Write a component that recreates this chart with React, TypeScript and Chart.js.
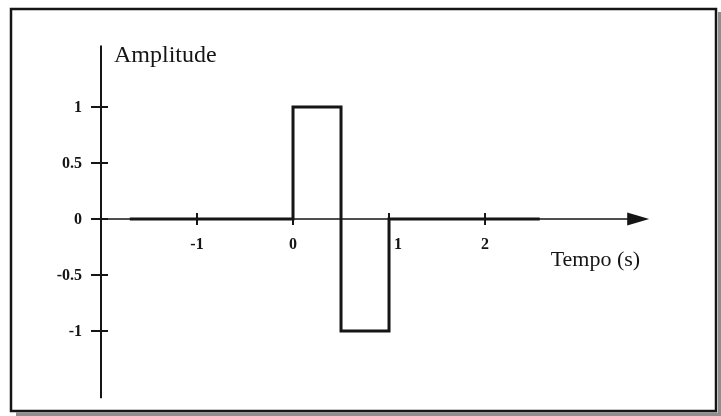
import { useEffect, useRef } from "react";
import { Chart, registerables } from "chart.js";

Chart.register(...registerables);

// Signal: amplitude holds each value from its breakpoint until the next one
const timeBreaks = [-1.7, 0, 0.5, 1, 2.57];
const amplitudeValues = [0, 1, -1, 0, 0];

const xTicks = [-1, 0, 1, 2];
const xTickLabels = ["-1", "0", "1", "2"];
const yTicks = [1, 0.5, 0, -0.5, -1];
const yTickLabels = ["1", "0.5", "0", "-0.5", "-1"];

const yAxisTitle = "Amplitude";
const xAxisTitle = "Tempo (s)";

const X_MIN = -2;
const X_MAX = 3.71;
const Y_MIN = -1.6;
const Y_MAX = 1.55;

const INK = "#151515";
const SERIF = "'Liberation Serif', 'Times New Roman', serif";

// value of the step signal just before time t
function signalBefore(t: number): number {
  let v = amplitudeValues[0];
  for (let i = 0; i < timeBreaks.length; i++) {
    if (timeBreaks[i] < t - 1e-9) v = amplitudeValues[i];
  }
  return v;
}

const framePlugin = {
  id: "paperFrame",
  beforeDraw(chart: any) {
    const { ctx, width, height } = chart;
    ctx.save();
    ctx.fillStyle = "#ffffff";
    ctx.fillRect(0, 0, width, height);
    // grey edge of the sheet along the bottom and right side
    ctx.fillStyle = "#8e8e8e";
    ctx.fillRect(16, 412.5, width - 16, height - 412.5);
    ctx.fillRect(718, 12, width - 718, height - 12);
    // outer frame
    ctx.strokeStyle = INK;
    ctx.lineWidth = 2.5;
    ctx.strokeRect(11, 9, 705, 402);
    ctx.restore();
  },
};

const axesPlugin = {
  id: "crossAxes",
  beforeDatasetsDraw(chart: any) {
    const { ctx, chartArea, scales } = chart;
    const xs = scales.x;
    const ys = scales.y;
    const axisX = xs.getPixelForValue(X_MIN);
    const axisY = ys.getPixelForValue(0);
    const tipX = xs.getPixelForValue(X_MAX);

    ctx.save();
    ctx.strokeStyle = INK;
    ctx.fillStyle = INK;
    ctx.lineCap = "butt";

    // vertical axis
    ctx.lineWidth = 2;
    ctx.beginPath();
    ctx.moveTo(axisX, chartArea.top);
    ctx.lineTo(axisX, chartArea.bottom);
    ctx.stroke();

    // horizontal axis with arrow head
    ctx.lineWidth = 1.6;
    ctx.beginPath();
    ctx.moveTo(axisX - 9, axisY);
    ctx.lineTo(tipX - 18, axisY);
    ctx.stroke();
    ctx.beginPath();
    ctx.moveTo(tipX, axisY);
    ctx.lineTo(tipX - 22, axisY - 6.5);
    ctx.lineTo(tipX - 22, axisY + 6.5);
    ctx.closePath();
    ctx.fill();

    // y ticks and labels
    ctx.lineWidth = 2;
    ctx.font = `bold 16px ${SERIF}`;
    ctx.textAlign = "right";
    ctx.textBaseline = "middle";
    yTicks.forEach((v, i) => {
      const py = ys.getPixelForValue(v);
      ctx.beginPath();
      ctx.moveTo(axisX - 10, py);
      ctx.lineTo(axisX + 7, py);
      ctx.stroke();
      ctx.fillText(yTickLabels[i], axisX - 19, py + 1);
    });

    // x ticks and labels
    ctx.textAlign = "center";
    xTicks.forEach((v, i) => {
      const px = xs.getPixelForValue(v);
      ctx.beginPath();
      ctx.moveTo(px, axisY - 6);
      ctx.lineTo(px, axisY + 6);
      ctx.stroke();
      // keep the label clear of a signal edge coming up from below
      const shift = signalBefore(v) < 0 ? 9 : 0;
      ctx.fillText(xTickLabels[i], px + shift, axisY + 26);
    });

    // axis titles
    ctx.textBaseline = "alphabetic";
    ctx.textAlign = "left";
    ctx.font = `24px ${SERIF}`;
    ctx.fillText(yAxisTitle, axisX + 13, chartArea.top + 17);
    ctx.textAlign = "right";
    ctx.font = `22px ${SERIF}`;
    ctx.fillText(xAxisTitle, tipX - 9, axisY + 47);
    ctx.restore();
  },
};

export default function App() {
  const canvasRef = useRef<HTMLCanvasElement | null>(null);

  useEffect(() => {
    const canvas = canvasRef.current;
    if (!canvas) return;
    const chart = new Chart(canvas, {
      type: "line",
      data: {
        datasets: [
          {
            label: yAxisTitle,
            data: timeBreaks.map((t, i) => ({ x: t, y: amplitudeValues[i] })),
            stepped: "before",
            borderColor: INK,
            borderWidth: 3,
            pointRadius: 0,
            fill: false,
            borderJoinStyle: "miter",
            borderCapStyle: "butt",
          },
        ],
      },
      options: {
        responsive: false,
        animation: false,
        devicePixelRatio: 1,
        layout: { padding: { left: 101, right: 71.8, top: 45.4, bottom: 17.8 } },
        plugins: {
          legend: { display: false },
          tooltip: { enabled: false },
          title: { display: false },
        },
        scales: {
          x: { type: "linear", min: X_MIN, max: X_MAX, display: false },
          y: { type: "linear", min: Y_MIN, max: Y_MAX, display: false },
        },
      },
      plugins: [framePlugin, axesPlugin],
    });
    return () => chart.destroy();
  }, []);

  return (
    <div style={{ position: "fixed", left: 0, top: 0, width: 721, height: 416, background: "#fff" }}>
      <canvas ref={canvasRef} width={721} height={416} style={{ display: "block" }} />
    </div>
  );
}
